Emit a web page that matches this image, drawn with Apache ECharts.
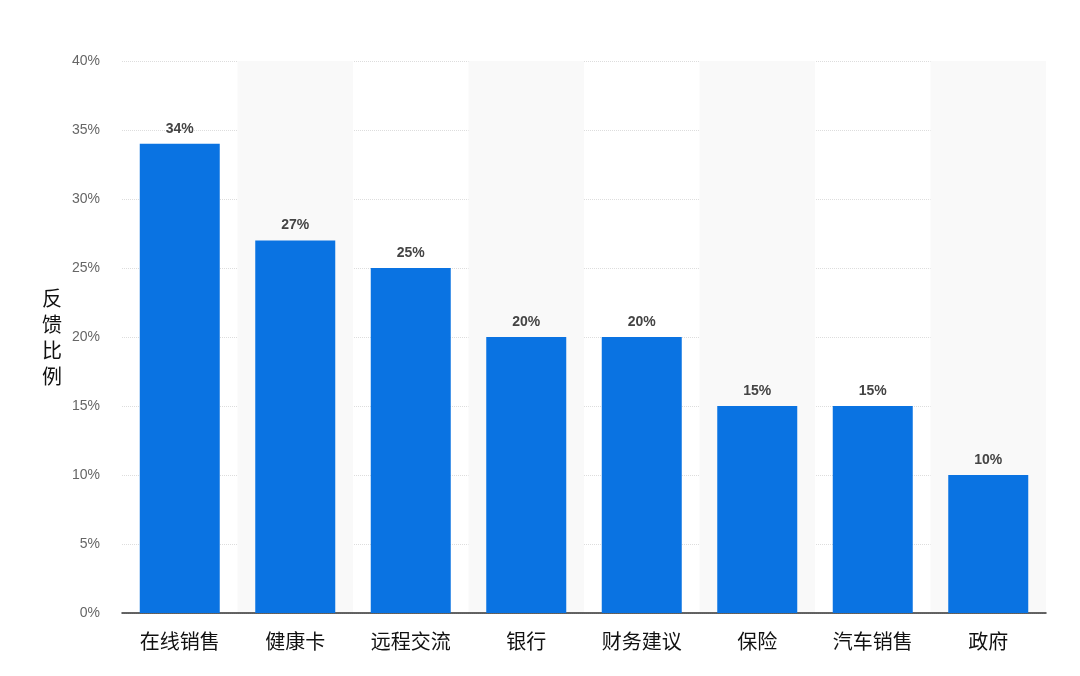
<!DOCTYPE html>
<html><head><meta charset="utf-8">
<script src="https://cdn.jsdelivr.net/npm/echarts@6/dist/echarts.min.js"></script>
<style>html,body{margin:0;padding:0;background:#fff}#c{width:1080px;height:676px}</style>
</head><body><div id="c"></div>
<script>
const categories = ['在线销售','健康卡','远程交流','银行','财务建议','保险','汽车销售','政府'];
const values = [34,27,25,20,20,15,15,10];
const yTicks = [0,5,10,15,20,25,30,35,40];
const chart = echarts.init(document.getElementById('c'));
chart.setOption({
  animation:false,
  grid:{left:122,right:34,top:61,bottom:63},
  xAxis:{type:'category',data:categories,
    axisLine:{lineStyle:{color:'#333',width:1.5}},axisTick:{show:false},
    axisLabel:{color:'#111',fontSize:20,margin:18,fontFamily:'Noto Sans CJK SC'},
    splitArea:{show:true,areaStyle:{color:['rgba(0,0,0,0)','#f9f9f9']}}},
  yAxis:{type:'value',min:0,max:40,interval:5,
    name:'反\n馈\n比\n例',nameLocation:'middle',nameGap:60,nameRotate:0,
    nameTextStyle:{fontSize:20,color:'#111',lineHeight:26,fontFamily:'Noto Sans CJK SC'},
    axisLabel:{formatter:v=>v+'%',color:'#666',fontSize:14,margin:22},
    axisLine:{show:false},axisTick:{show:false},
    splitLine:{lineStyle:{color:'#ddd',type:'dotted'}}},
  series:[{type:'bar',data:values,barWidth:80,
    itemStyle:{color:'#0a73e2'},
    label:{show:true,position:'top',formatter:p=>p.value+'%',color:'#444',fontSize:14,fontWeight:'bold',distance:8}}]
});
</script></body></html>
